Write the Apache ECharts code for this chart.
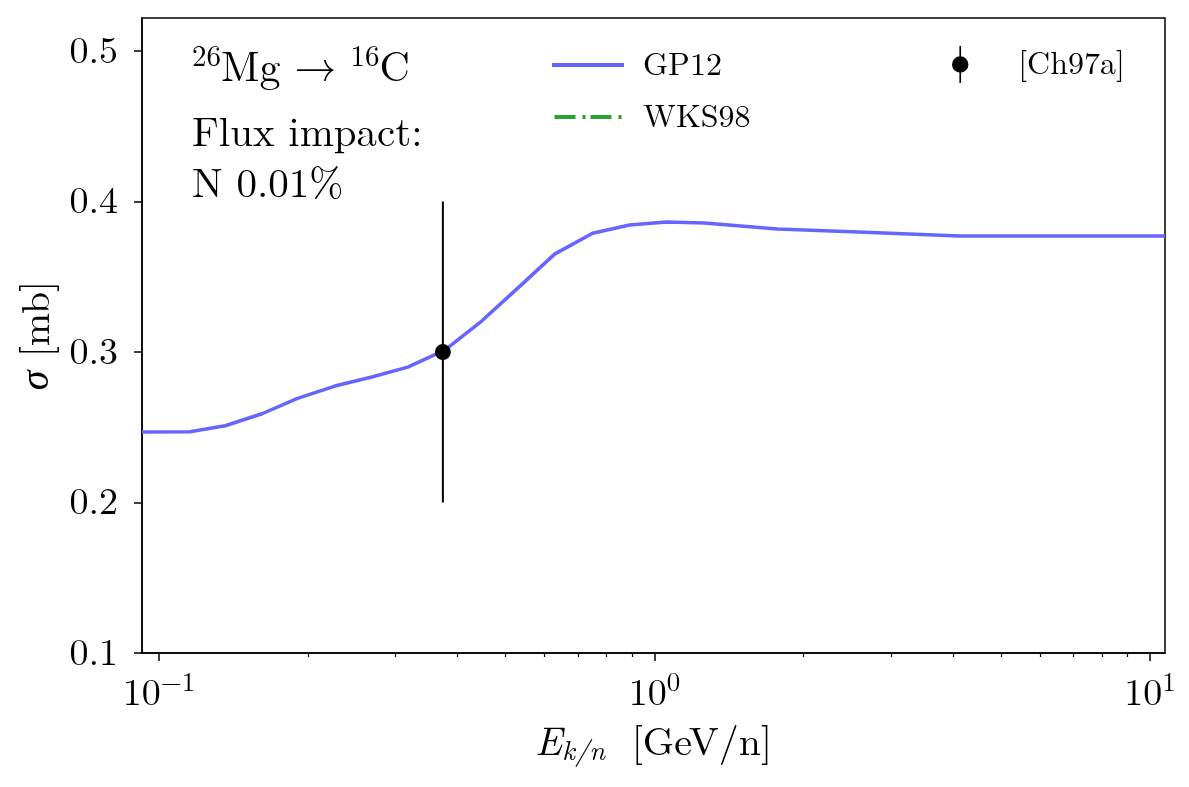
<!DOCTYPE html>
<html>
<head>
<meta charset="utf-8">
<script src="https://cdn.jsdelivr.net/npm/echarts@6/dist/echarts.min.js"></script>
<style>html,body{margin:0;padding:0;background:#fff}#c{width:1189px;height:787px}</style>
</head>
<body>
<div id="c"></div>
<script>
// ---- data ----
const gpEnergy = [0.0924, 0.1155, 0.136, 0.1614, 0.1898, 0.2264, 0.2688, 0.3177, 0.3773, 0.4479, 0.5297, 0.6286, 0.7498, 0.890, 1.057, 1.261, 1.77, 2.5, 4.12, 10.72];
const gpSigma  = [0.2468, 0.247, 0.251, 0.259, 0.269, 0.2774, 0.2834, 0.290, 0.3013, 0.3206, 0.3425, 0.3651, 0.379, 0.3844, 0.3864, 0.3857, 0.3817, 0.3800, 0.3772, 0.3772];
const wksEnergy = [];
const wksSigma = [];
const chEnergy = [0.374];
const chSigma = [0.30];
const chErr = [0.10];
const xMajorTicks = [0.1, 1, 10];
const xMinorTicks = [0.2,0.3,0.4,0.5,0.6,0.7,0.8,0.9,2,3,4,5,6,7,8,9];
const yTicks = [0.1, 0.2, 0.3, 0.4, 0.5];

const FONT = 'Latin Modern Roman, CMU Serif, serif';
const GREEK = 'Liberation Serif, DejaVu Serif, serif';
const chart = echarts.init(document.getElementById('c'));

function expLabel(v) {
  const e = Math.round(Math.log10(v));
  return '{b|10}{s|' + (e < 0 ? '\u2212' + (-e) : e) + '}';
}

chart.setOption({
  animation: false,
  textStyle: { fontFamily: FONT },
  grid: { left: 142, right: 24, top: 18, bottom: 134, show: true, borderColor: '#000', borderWidth: 1.5 },
  legend: [
    {
      data: [
        { name: 'GP12', icon: 'path://M0,0 L74,0 L74,4 L0,4 Z' },
        { name: 'WKS98', icon: 'path://M0,0 L21,0 L21,4 L0,4 Z M28,0 L31,0 L31,4 L28,4 Z M36,0 L57,0 L57,4 L36,4 Z M64,0 L67,0 L67,4 L64,4 Z' }
      ],
      orient: 'vertical', left: 547, top: 44,
      itemWidth: 72, itemHeight: 4, itemGap: 20,
      textStyle: { fontFamily: FONT, fontSize: 32, color: '#000', padding: [0, 0, 0, 14] }
    },
    {
      data: [{ name: '[Ch97a]', icon: 'path://M7.2,0 L8.8,0 L8.8,36 L7.2,36 Z M0,18 A8,8 0 1,1 16,18 A8,8 0 1,1 0,18 Z' }],
      left: 947, top: 41, itemWidth: 18, itemHeight: 37,
      textStyle: { fontFamily: FONT, fontSize: 32, color: '#000', padding: [0, 0, 0, 44] }
    }
  ],
  xAxis: [
    {
      type: 'log', logBase: 10, min: 0.0924, max: 10.72,
      name: '{i|E}{sub|k/n}{n|  [GeV/n]}', nameLocation: 'middle', nameGap: 68,
      nameTextStyle: {
        fontFamily: FONT, fontSize: 40, color: '#000',
        rich: {
          i: { fontFamily: FONT, fontSize: 40, fontStyle: 'italic', color: '#000' },
          sub: { fontFamily: FONT, fontSize: 28, fontStyle: 'italic', color: '#000', padding: [16, 0, 0, 0] },
          n: { fontFamily: FONT, fontSize: 40, color: '#000' }
        }
      },
      axisLine: { show: true, lineStyle: { color: '#000', width: 1.5 } },
      axisTick: { show: true, inside: false, length: 8, customValues: xMajorTicks, lineStyle: { color: '#000', width: 1.5 } },
      axisLabel: {
        show: true, customValues: xMajorTicks, margin: 16, formatter: expLabel,
        fontFamily: FONT, fontSize: 38,
        rich: {
          b: { fontFamily: FONT, fontSize: 38, color: '#000' },
          s: { fontFamily: FONT, fontSize: 27, color: '#000', padding: [0, 0, 22, 0] }
        }
      },
      splitLine: { show: false }, minorTick: { show: false }
    },
    {
      type: 'log', logBase: 10, min: 0.0924, max: 10.72, position: 'bottom',
      axisLine: { show: false },
      axisTick: { show: true, length: 4, customValues: xMinorTicks, lineStyle: { color: '#000', width: 1.2 } },
      axisLabel: { show: false },
      splitLine: { show: false }
    }
  ],
  yAxis: {
    type: 'value', min: 0.1, max: 0.522, interval: 0.1,
    name: '{i|\u03c3} [mb]', nameLocation: 'middle', nameGap: 85, nameRotate: 90,
    nameTextStyle: {
      fontFamily: FONT, fontSize: 40, color: '#000',
      rich: { i: { fontFamily: GREEK, fontSize: 40, fontStyle: 'italic', fontWeight: 'normal', color: '#000' } }
    },
    axisLine: { show: true, lineStyle: { color: '#000', width: 1.5 } },
    axisTick: { show: true, length: 8, customValues: yTicks, lineStyle: { color: '#000', width: 1.5 } },
    axisLabel: { customValues: yTicks, margin: 24, fontFamily: FONT, fontSize: 38, color: '#000', formatter: v => v.toFixed(1) },
    splitLine: { show: false }
  },
  graphic: [
    {
      type: 'text', left: 192, top: 43,
      style: {
        text: '{s|26}{b|Mg \u2192 }{s|16}{b|C}',
        rich: {
          b: { fontFamily: FONT, fontSize: 42, fill: '#000' },
          s: { fontFamily: FONT, fontSize: 29, fill: '#000', padding: [0, 0, 22, 0] }
        }
      }
    },
    {
      type: 'text', left: 192, top: 108,
      style: { text: 'Flux impact:\nN 0.01%', fontFamily: FONT, fontSize: 41, lineHeight: 51, fill: '#000' }
    }
  ],
  series: [
    {
      name: 'GP12', type: 'line', xAxisIndex: 0,
      data: gpEnergy.map((e, i) => [e, gpSigma[i]]),
      showSymbol: false, symbol: 'none',
      lineStyle: { color: '#6666ff', width: 3.5 }, itemStyle: { color: '#6666ff' }, z: 2
    },
    {
      name: 'WKS98', type: 'line', xAxisIndex: 0,
      data: wksEnergy.map((e, i) => [e, wksSigma[i]]),
      showSymbol: false, symbol: 'none',
      lineStyle: { color: '#2ca02c', width: 3.5, type: [21, 7, 3, 5] }, itemStyle: { color: '#2ca02c' }
    },
    {
      name: '[Ch97a]', type: 'custom', xAxisIndex: 0,
      data: chEnergy.map((e, i) => [e, chSigma[i], chErr[i]]),
      itemStyle: { color: '#000' },
      renderItem: function (params, api) {
        const x = api.value(0), y = api.value(1), err = api.value(2);
        const lo = api.coord([x, y - err]);
        const hi = api.coord([x, y + err]);
        const c = api.coord([x, y]);
        return {
          type: 'group',
          children: [
            { type: 'line', shape: { x1: lo[0], y1: lo[1], x2: hi[0], y2: hi[1] }, style: { stroke: '#000', lineWidth: 2 } },
            { type: 'circle', shape: { cx: c[0], cy: c[1], r: 8 }, style: { fill: '#000' } }
          ]
        };
      },
      z: 5
    }
  ]
});
</script>
</body>
</html>
